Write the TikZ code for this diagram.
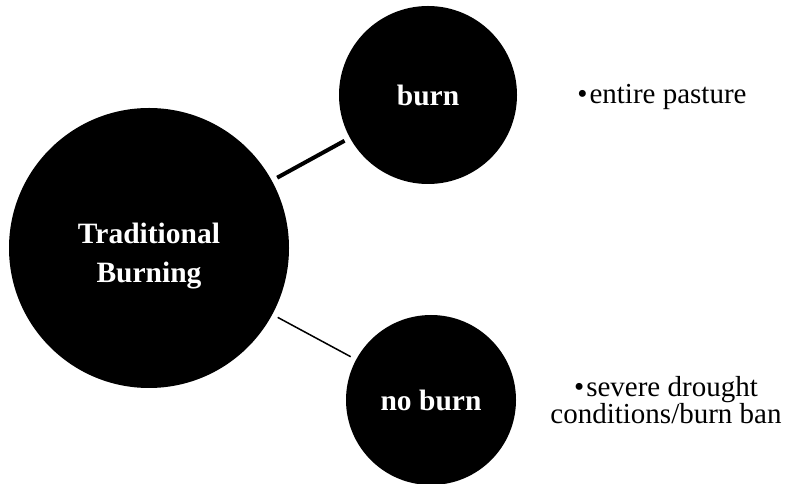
\documentclass[tikz,border=0pt]{standalone}
\usepackage{fontspec}
\setmainfont{Liberation Serif}

\begin{document}
\begin{tikzpicture}[
                x=1pt, y=1pt,
                bubble/.style={circle, fill=black, inner sep=0pt},
                bubbletext/.style={text=white, font=\fontsize{29.5}{39}\selectfont\bfseries, align=center, inner sep=0pt},
                note/.style={font=\fontsize{29}{23}\selectfont, align=center, inner sep=0pt},
                link/.style={shorten <=6pt, shorten >=6pt},
            ]
                \useasboundingbox (0, 0) rectangle (789, 484);
                \node[bubble, minimum size=280pt] (trad) at (149, 236) {};
                \node[bubbletext] (tradtext) at ([yshift=-8pt]trad.center) {Traditional\\Burning};
                \node[bubble, minimum size=178pt, bubbletext] (burn) at (428, 389) {burn};
                \node[bubble, minimum size=170pt, bubbletext] (noburn) at (431, 84) {no burn};
                \draw[link, line width=4pt] (trad) -- (burn);
                \draw[link, line width=1.5pt] (trad) -- (noburn);
                \node[note] (burnnote) at (662, 387) {\textbullet\kern2pt entire pasture};
                \node[note] (noburnnote) at (666, 84) {\textbullet\kern2pt severe drought\\conditions/burn ban};
            \end{tikzpicture}
\end{document}
